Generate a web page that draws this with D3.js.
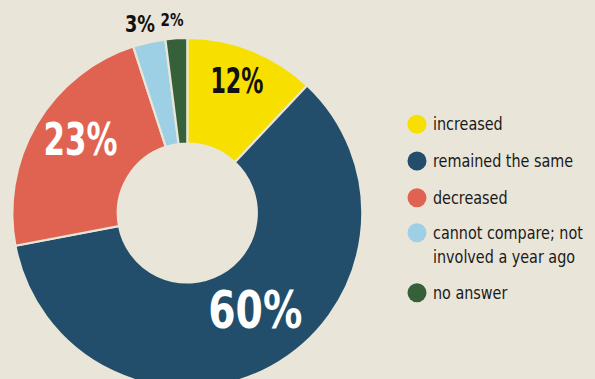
<!DOCTYPE html>
<html>
<head>
<meta charset="utf-8">
<script src="https://cdn.jsdelivr.net/npm/d3@7"></script>
<style>
  html, body { margin: 0; padding: 0; background: #e9e5d8; }
  svg { display: block; }
</style>
</head>
<body>
<svg id="chart" width="595" height="379"></svg>
<script>
const categories = ["increased", "remained the same", "decreased", "cannot compare; not involved a year ago", "no answer"];
const legendLines = [["increased"], ["remained the same"], ["decreased"], ["cannot compare; not", "involved a year ago"], ["no answer"]];
const values = [12, 60, 23, 3, 2];
const labels = ["12%", "60%", "23%", "3%", "2%"];
const colors = ["#f7df00", "#224e6b", "#e06352", "#9dd0e4", "#35603a"];
const labelColors = ["#111", "#fff", "#fff", "#111", "#111"];

const W = 595, H = 379;
const svg = d3.select("#chart");
svg.append("rect").attr("width", W).attr("height", H).attr("fill", "#e9e5d8");

const cx = 187.3, cy = 213, outerR = 175, innerR = 69.5;
const pie = d3.pie().sort(null).value(d => d)(values);
const arc = d3.arc().innerRadius(innerR).outerRadius(outerR);

const g = svg.append("g").attr("transform", `translate(${cx},${cy})`);
g.selectAll("path.slice").data(pie).join("path")
  .attr("class", "slice")
  .attr("d", arc)
  .attr("fill", (d, i) => colors[i])
  .attr("stroke", "#e9e5d8")
  .attr("stroke-width", 2.2)
  .attr("stroke-linejoin", "miter");

const font = "'Liberation Sans Narrow', 'DejaVu Sans Condensed', 'Roboto', sans-serif";
// radius along the slice's mid-angle, plus small nudges
const labelSpec = [
  {r: 143, dx: -3, dy: 0, size: 36, len: 53},
  {r: 110, dx: 15, dy: 0, size: 52, len: 94},
  {r: 130, dx: 5, dy: -8, size: 44, len: 74},
  {r: 194, dx: -5, dy: 0, size: 23, len: 30},
  {r: 194, dx: -3, dy: 0, size: 18, len: 23}
];
g.selectAll("text.lbl").data(pie).join("text")
  .attr("class", "lbl")
  .attr("transform", (d, i) => {
    const a = (d.startAngle + d.endAngle) / 2;
    const s = labelSpec[i];
    const x = Math.sin(a) * s.r + s.dx, y = -Math.cos(a) * s.r + s.dy;
    return `translate(${x},${y})`;
  })
  .attr("text-anchor", "middle")
  .attr("dy", "0.36em")
  .attr("font-family", font)
  .attr("font-weight", "bold")
  .attr("font-size", (d, i) => labelSpec[i].size)
  .attr("textLength", (d, i) => labelSpec[i].len)
  .attr("lengthAdjust", "spacingAndGlyphs")
  .attr("fill", (d, i) => labelColors[i])
  .text((d, i) => labels[i]);

// legend
const legendY = [124.3, 161, 197.7, 232.7, 292.7];
const lg = svg.append("g");
categories.forEach((c, i) => {
  lg.append("circle").attr("cx", 417).attr("cy", legendY[i]).attr("r", 9.5).attr("fill", colors[i]);
  const t = lg.append("text")
    .attr("transform", `translate(433,${legendY[i]}) scale(0.94,1)`)
    .attr("dominant-baseline", "central")
    .attr("font-family", font)
    .attr("font-size", 17)
    .attr("fill", "#1a1a1a");
  legendLines[i].forEach((line, j) => {
    t.append("tspan").attr("x", 0).attr("dy", j === 0 ? 0 : 24).text(line);
  });
});
</script>
</body>
</html>
